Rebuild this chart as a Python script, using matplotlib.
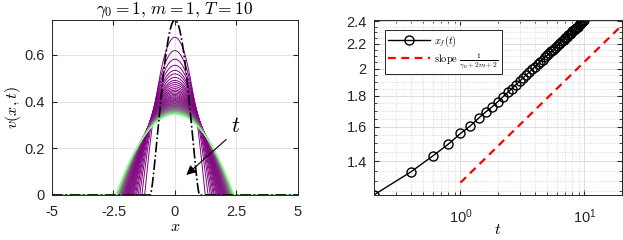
import numpy as np
import matplotlib
matplotlib.use('Agg')
import matplotlib.pyplot as plt
from matplotlib.ticker import FixedLocator, NullFormatter, LogLocator

plt.rcParams['mathtext.fontset'] = 'cm'
plt.rcParams['font.family'] = 'Liberation Sans'

# times of the saved profiles
t_vals = [0.2, 0.4, 0.6, 0.8, 1.0, 1.2, 1.4, 1.6, 1.8, 2.0,
          2.2, 2.4, 2.6, 2.8, 3.0, 3.2, 3.4, 3.6, 3.8, 4.0,
          4.2, 4.4, 4.6, 4.8, 5.0, 5.2, 5.4, 5.6, 5.8, 6.0,
          6.2, 6.4, 6.6, 6.8, 7.0, 7.2, 7.4, 7.6, 7.8, 8.0,
          8.2, 8.4, 8.6, 8.8, 9.0, 9.2, 9.4, 9.6, 9.8, 10.0]

# front position x_f(t)
xf_vals = [1.230, 1.345, 1.430, 1.496, 1.558, 1.604, 1.652, 1.693, 1.726, 1.760,
           1.793, 1.824, 1.852, 1.879, 1.905, 1.929, 1.952, 1.974, 1.995, 2.015,
           2.034, 2.053, 2.070, 2.088, 2.104, 2.121, 2.136, 2.151, 2.166, 2.181,
           2.195, 2.208, 2.221, 2.234, 2.247, 2.259, 2.272, 2.283, 2.295, 2.306,
           2.318, 2.328, 2.339, 2.350, 2.360, 2.370, 2.380, 2.390, 2.399, 2.409]

# peak height v(0,t)
peak_vals = [0.676, 0.619, 0.582, 0.556, 0.534, 0.519, 0.504, 0.491, 0.482, 0.473,
             0.464, 0.456, 0.449, 0.443, 0.437, 0.431, 0.426, 0.421, 0.417, 0.413,
             0.409, 0.405, 0.402, 0.398, 0.395, 0.392, 0.390, 0.387, 0.384, 0.381,
             0.379, 0.377, 0.375, 0.372, 0.370, 0.368, 0.366, 0.364, 0.363, 0.361,
             0.359, 0.357, 0.356, 0.354, 0.353, 0.351, 0.350, 0.348, 0.347, 0.345]

# initial data
init_peak = 0.75
init_front = 1.0

# reference slope line
slope_t = [1.0, 20.0]
slope_y = [1.29, 2.36]

fig = plt.figure(figsize=(6.23, 2.4), dpi=100)
ax1 = fig.add_axes([0.0835, 0.1875, 0.3945, 0.7292])
ax2 = fig.add_axes([0.600, 0.1875, 0.398, 0.7292])

tick_col = '#262626'

# ---- left panel: profiles
x = np.linspace(-5, 5, 2001)
n = len(t_vals)
c0 = np.array([0.5, 0.0, 0.5])
c1 = np.array([0.55, 1.0, 0.55])
for i in range(n):
    prof = peak_vals[i] * np.clip(1 - (x / xf_vals[i]) ** 2, 0, None)
    s = (i / (n - 1)) ** 2.5
    col = c0 + (c1 - c0) * s
    ax1.plot(x, prof, color=col, lw=0.7)
v0 = init_peak * np.clip(1 - (x / init_front) ** 2, 0, None) ** 1.5
ax1.plot(x, v0, color='k', ls='-.', lw=1.2)

ax1.annotate('', xy=(0.38, 0.078), xytext=(2.17, 0.246),
             arrowprops=dict(arrowstyle='-|>', color='k', lw=0.8,
                             mutation_scale=14))
ax1.text(2.47, 0.293, '$t$', fontsize=16, ha='center', va='center')

ax1.set_xlim(-5, 5)
ax1.set_ylim(0, 0.75)
ax1.set_xticks([-5, -2.5, 0, 2.5, 5])
ax1.set_xticklabels(['-5', '-2.5', '0', '2.5', '5'])
ax1.set_yticks([0, 0.2, 0.4, 0.6])
ax1.set_yticklabels(['0', '0.2', '0.4', '0.6'])
ax1.grid(True, color='#e3e3e3', lw=0.7)
ax1.set_axisbelow(True)
ax1.set_title(r'$\gamma_0=1,\, m=1,\, T=10$', fontsize=12.5, pad=3)

# ---- right panel: front position
ax2.set_xscale('log')
ax2.set_yscale('log')
ax2.plot(t_vals, xf_vals, color='k', lw=1, marker='o', ms=6.5, mfc='none',
         mec='k', mew=1, label='$x_f(t)$')
ax2.plot(slope_t, slope_y, color='r', ls='--', lw=1.6, dashes=(3.5, 2.5),
         label=r'$\mathrm{slope}\ \frac{1}{\gamma_0+2m+2}$')
ax2.set_xlim(0.2, 20)
ax2.set_ylim(1.23, 2.41)
ax2.xaxis.set_major_locator(FixedLocator([1, 10]))
ax2.set_xticklabels(['$\\mathregular{10^{0}}$', '$\\mathregular{10^{1}}$'])
ax2.xaxis.set_minor_locator(LogLocator(base=10, subs=np.arange(2, 10)))
ax2.xaxis.set_minor_formatter(NullFormatter())
ax2.yaxis.set_major_locator(FixedLocator([1.4, 1.6, 1.8, 2.0, 2.2, 2.4]))
ax2.set_yticklabels(['1.4', '1.6', '1.8', '2', '2.2', '2.4'])
ax2.yaxis.set_minor_locator(FixedLocator(np.arange(1.25, 2.41, 0.05)))
ax2.yaxis.set_minor_formatter(NullFormatter())
ax2.grid(True, which='major', color='#dcdcdc', lw=0.7)
ax2.grid(True, which='minor', color='#d0d0d0', lw=0.6, ls=':')
ax2.set_axisbelow(True)
leg = ax2.legend(loc='upper left', fontsize=7.5, frameon=True, fancybox=False,
                 borderpad=0.3, handlelength=4.0, handletextpad=0.4,
                 labelspacing=0.2, framealpha=1,
                 bbox_to_anchor=(0.045, 0.94), borderaxespad=0)
leg.get_frame().set_edgecolor('#262626')
leg.get_frame().set_linewidth(0.7)

for ax in (ax1, ax2):
    ax.tick_params(which='both', direction='in', colors=tick_col,
                   labelsize=10.5, top=True, right=True, pad=5)
    ax.tick_params(which='major', length=3.5)
    ax.tick_params(which='minor', length=2)
    for s in ax.spines.values():
        s.set_color(tick_col)
        s.set_linewidth(0.7)
ax1.tick_params(axis='x', pad=7)
ax2.tick_params(axis='x', pad=9)

ax1.set_xlabel('$x$', fontsize=11.5, labelpad=0)
ax1.set_ylabel('$v(x,t)$', fontsize=11.5, labelpad=1)
ax2.set_xlabel('$t$', fontsize=11.5, labelpad=-3)

fig.savefig('out.png', dpi=100)
